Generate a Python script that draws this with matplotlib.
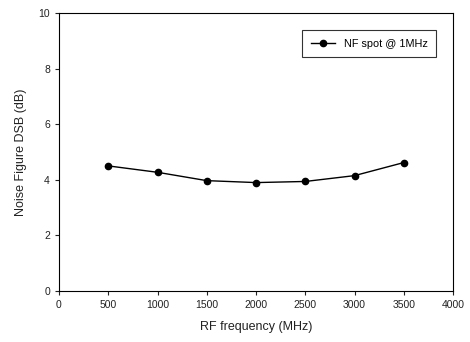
import matplotlib.pyplot as plt

plt.rcParams['font.family'] = ['Liberation Sans', 'DejaVu Sans']

# data
rf_freq = [500, 1000, 1500, 2000, 2500, 3000, 3500]
nf_dsb = [4.50, 4.27, 3.97, 3.90, 3.94, 4.15, 4.62]

fig = plt.figure(figsize=(4.70, 3.42), dpi=100)
ax = fig.add_axes([59 / 470, 1 - 291 / 342, (453 - 59) / 470, (291 - 13) / 342])

ax.plot(rf_freq, nf_dsb, color='black', linewidth=1.0, marker='o',
        markersize=4.5, label='NF spot @ 1MHz')

ax.set_xlim(0, 4000)
ax.set_ylim(0, 10)
ax.set_xticks(range(0, 4001, 500))
ax.set_yticks(range(0, 11, 2))
ax.tick_params(direction='out', length=3, width=0.8, labelsize=7.5,
               colors='#222222', top=False, right=False)
for s in ax.spines.values():
    s.set_linewidth(0.8)

ax.set_xlabel('RF frequency (MHz)', fontsize=9, labelpad=8, color='#222222')
ax.set_ylabel('Noise Figure DSB (dB)', fontsize=9, labelpad=8, color='#222222')

leg = ax.legend(loc='upper right', bbox_to_anchor=(0.957, 0.939), fontsize=7.8,
                frameon=True, fancybox=False, edgecolor='black',
                handlelength=2.2, borderpad=0.8, borderaxespad=0)
leg.get_frame().set_linewidth(0.8)

fig.savefig('out.png', dpi=100)
